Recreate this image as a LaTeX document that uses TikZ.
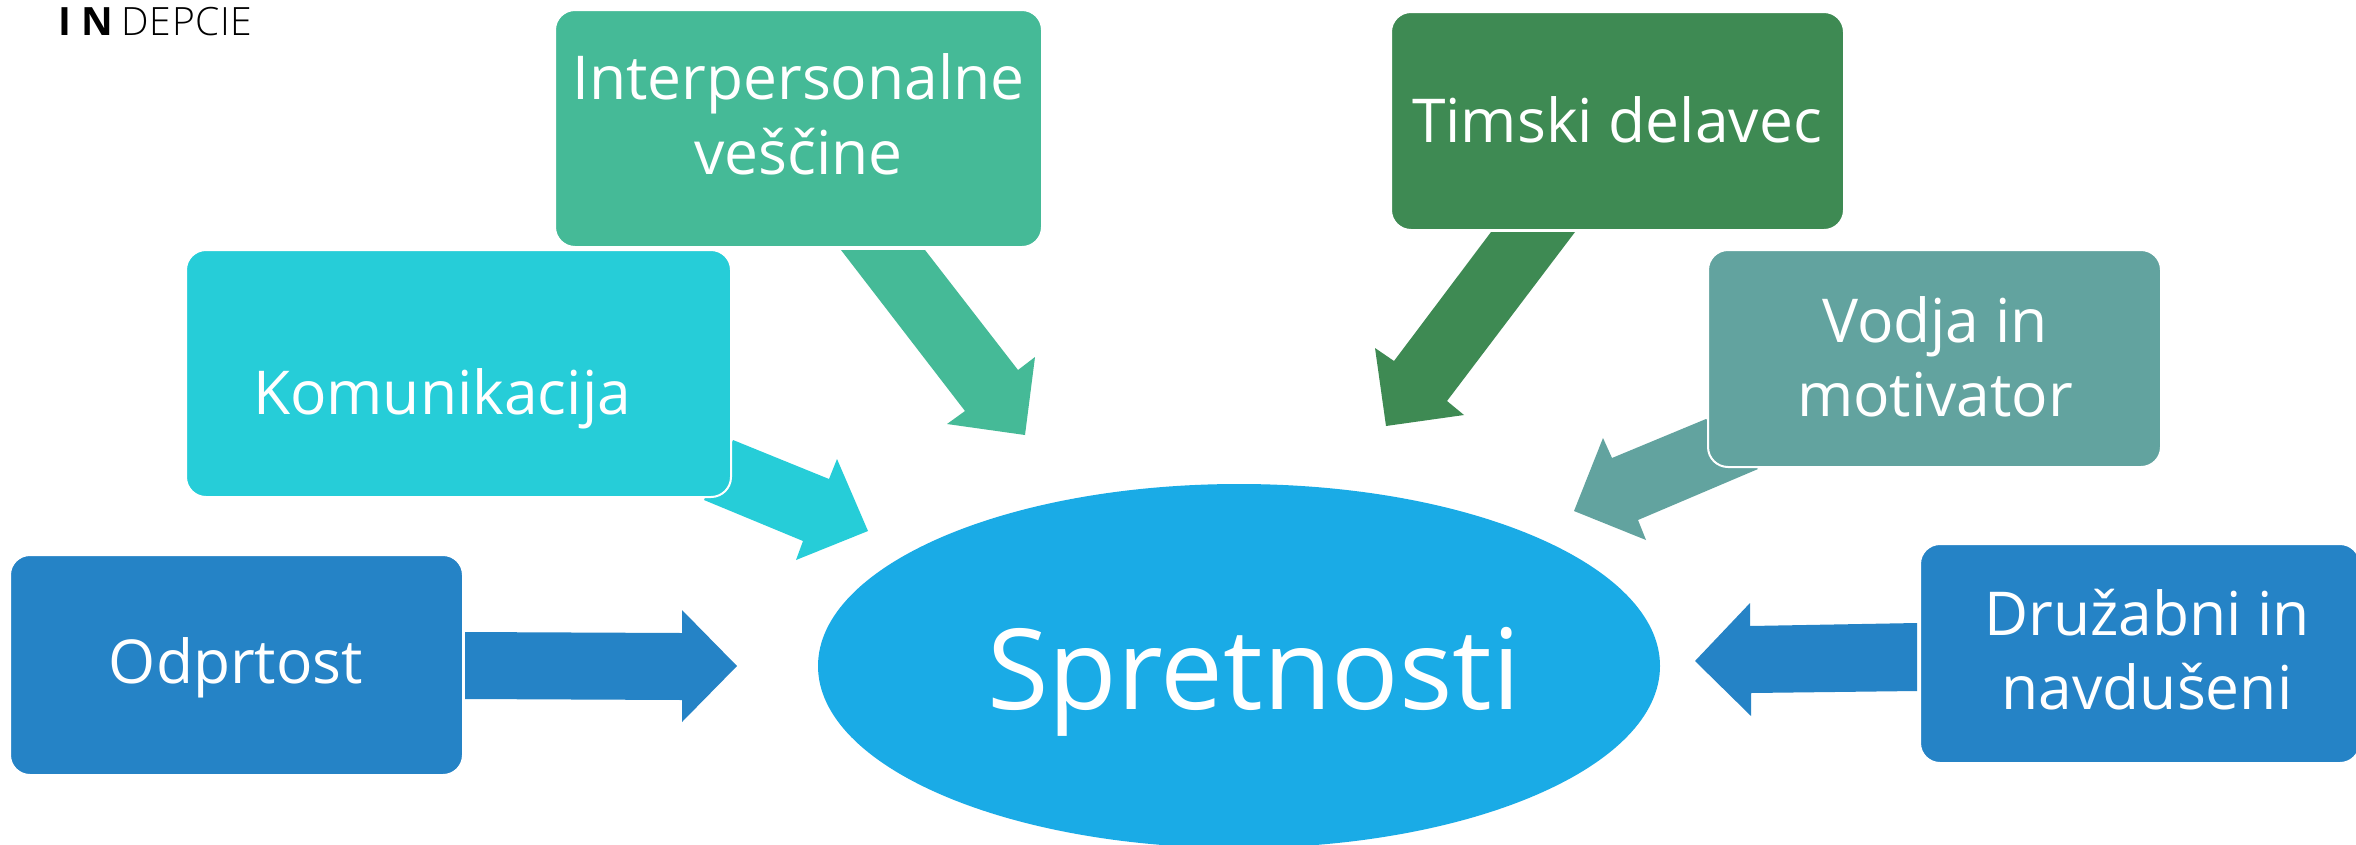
\documentclass[tikz,border=0pt]{standalone}
\usetikzlibrary{shapes.geometric}
\usepackage{fontspec}
\setmainfont{Open Sans}
\newfontfamily\lightf[LetterSpace=1.5]{Open Sans Light}
\definecolor{cInter}{HTML}{45BA97}
\definecolor{cKom}{HTML}{26CDD8}
\definecolor{cOdp}{HTML}{2583C6}
\definecolor{cEll}{HTML}{1AABE6}
\definecolor{cTim}{HTML}{3E8A53}
\definecolor{cVod}{HTML}{62A39F}
\tikzset{
  box/.style={draw=white,line width=2pt,rounded corners=20pt,inner sep=0pt},
  lab/.style={text=white,align=center,inner sep=0pt,font=\fontsize{60.5}{77}\selectfont}
}
\begin{document}
\begin{tikzpicture}[x=1pt,y=-1pt]
\useasboundingbox[fill=white] (0,0) rectangle (2356,844);
\clip (0,0) rectangle (2356,844);
% arrows
\fill[cInter] (841,250) -- (925,250) -- (1018,370) -- (1035,357) -- (1025,435) -- (947,424) -- (965,411) -- cycle;
\fill[cKom] (733,440) -- (829,479) -- (837,459) -- (868,531) -- (796,560) -- (803,541) -- (704,500) -- cycle;
\fill[cOdp] (465,632) -- (682,633) -- (682,610) -- (737,666) -- (682,722) -- (682,700) -- (465,699) -- cycle;
\fill[cTim] (1491,232) -- (1575,232) -- (1447,401) -- (1464,415) -- (1386,426) -- (1375,348) -- (1394,361) -- cycle;
\fill[cVod] (1706,419) -- (1612,458) -- (1603,438) -- (1574,511) -- (1646,540) -- (1638,520) -- (1758,469) -- cycle;
\fill[cOdp] (1917,623) -- (1750,626) -- (1750,603) -- (1695,661) -- (1751,716) -- (1751,693) -- (1917,691) -- cycle;
% boxes
\draw[box,fill=cInter] (555,10) rectangle (1042,247);
\draw[box,fill=cKom] (186,250) rectangle (731,497);
\draw[box,fill=cOdp] (10,555) rectangle (463,775);
\draw[box,fill=cTim] (1391,12) rectangle (1844,230);
\draw[box,fill=cVod] (1708,250) rectangle (2161,467);
\draw[box,fill=cOdp] (1920,544) rectangle (2360,763);
\node[ellipse,fill=cEll,minimum width=842pt,minimum height=364pt,inner sep=0pt] (hub) at (1239,666) {};
% labels
\node[lab] (t1) at (798.5,114) {Interpersonalne\\[-2pt]ve\v{s}\v{c}ine};
\node[lab] (t2) at (442,399) {Komunikacija};
\node[lab] (t3) at (236,668) {Odprtost};
\node[lab] (t4) at (1617,120) {Timski delavec};
\node[lab] (t5) at (1935,357) {Vodja in\\[-3pt]motivator};
\node[lab] (t6) at (2147,650) {Dru\v{z}abni in\\[-3pt]navdu\v{s}eni};
\node[text=white,inner sep=0pt,font=\fontsize{112}{130}\selectfont] (t7) at (1254,682) {Spretnosti};
\node[anchor=base west,inner sep=0pt,font=\fontsize{39}{40}\selectfont] (logo) at (58,35) {\textbf{I}\hspace{10pt}\textbf{N}\hspace{9pt}{\lightf DEPCIE}};
\end{tikzpicture}
\end{document}
